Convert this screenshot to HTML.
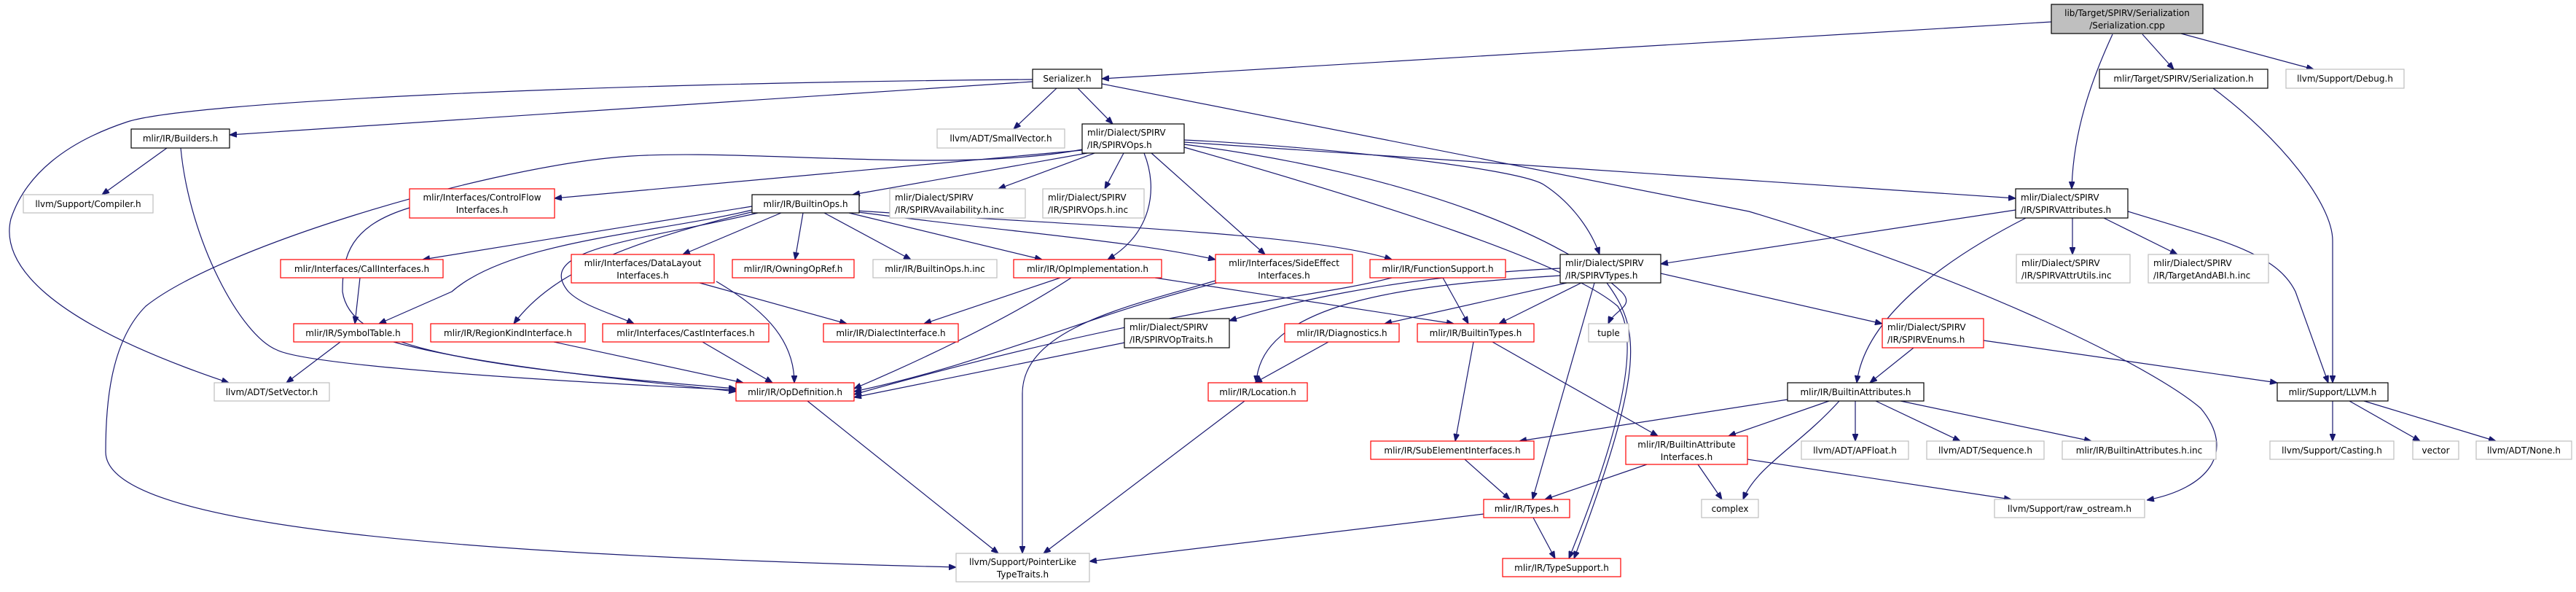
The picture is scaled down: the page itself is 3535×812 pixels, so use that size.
<!DOCTYPE html>
<html><head><meta charset="utf-8"><style>
html,body{margin:0;padding:0;background:#fff;}
svg{display:block;}
text{font-family:"DejaVu Sans","Liberation Sans",sans-serif;font-size:12px;fill:#000;}
.e{fill:none;stroke:#191970;stroke-width:1.2;marker-end:url(#a);}
.b{fill:#fff;stroke:#000;stroke-width:1.2;}
.r{fill:#fff;stroke:#ff0000;stroke-width:1.2;}
.g{fill:#fff;stroke:#bfbfbf;stroke-width:1.2;}
</style></head><body>
<svg width="3535" height="812" viewBox="0 0 3535 812" xmlns="http://www.w3.org/2000/svg">
<defs><marker id="a" viewBox="0 0 10 8" refX="10" refY="4" markerWidth="10" markerHeight="8" markerUnits="userSpaceOnUse" orient="auto"><path d="M0,0 L10,4 L0,8 z" fill="#191970" stroke="#191970"/></marker></defs>
<!-- edges -->
<path class="e" d="M2815,30 L1512,108"/>
<path class="e" d="M2940,47 L2983,95"/>
<path class="e" d="M2993,46 L3175,95"/>
<path class="e" d="M2899,47 C2870,110 2845,180 2843,259"/>
<path class="e" d="M3037,121 C3130,190 3201,280 3201,330 L3201,525"/>
<path class="e" d="M2920,290 C3050,330 3124,347 3150,400 L3195,525"/>
<path class="e" d="M1417,112 L315,185"/>
<path class="e" d="M1417,109 C800,114 260,140 175,167 C90,195 35,240 15,300 C0,360 60,440 314,525"/>
<path class="e" d="M1450,121 L1391,177"/>
<path class="e" d="M1479,121 L1527,170"/>
<path class="e" d="M1512,115 L2400,290 C2700,380 2950,500 3020,560 C3070,620 3030,670 2946,686"/>
<path class="e" d="M229,203 L140,267"/>
<path class="e" d="M248,203 C260,330 330,460 380,480 C420,500 700,520 1010,535"/>
<path class="e" d="M1485,206 L761,272"/>
<path class="e" d="M1492,210 L1170,267"/>
<path class="e" d="M1502,210 L1370,259"/>
<path class="e" d="M1542,210 L1516,259"/>
<path class="e" d="M1570,210 C1590,260 1580,320 1520,356"/>
<path class="e" d="M1580,210 L1736,349"/>
<path class="e" d="M1625,192 C1800,200 2080,230 2118,253 C2160,280 2185,320 2195,349"/>
<path class="e" d="M1625,195 L2766,272"/>
<path class="e" d="M1625,202 C1900,280 2150,360 2220,420 C2260,480 2200,650 2153,766"/>
<path class="e" d="M1485,205 C1300,240 1000,200 842,216 C650,235 300,340 200,420 C150,470 145,560 145,620 C145,720 600,760 1312,778"/>
<path class="e" d="M1625,198 C1950,240 2150,330 2225,400 C2245,420 2215,425 2207,444"/>
<path class="e" d="M1032,283 L580,356"/>
<path class="e" d="M1072,292 L937,349"/>
<path class="e" d="M1102,292 L1091,356"/>
<path class="e" d="M1131,292 L1250,356"/>
<path class="e" d="M1165,292 L1430,356"/>
<path class="e" d="M1170,290 C1400,320 1550,330 1668,356"/>
<path class="e" d="M1175,289 C1500,310 1800,320 1910,356"/>
<path class="e" d="M1032,288 C900,320 700,330 620,400 L520,444"/>
<path class="e" d="M1035,290 C870,330 760,370 705,444"/>
<path class="e" d="M1040,292 C880,330 730,340 780,400 C800,420 840,430 870,444"/>
<path class="e" d="M983,386 C1040,420 1090,460 1090,525"/>
<path class="e" d="M960,388 L1162,444"/>
<path class="e" d="M562,285 C480,310 470,350 470,400 C480,470 600,500 1010,533"/>
<path class="e" d="M494,381 L487,444"/>
<path class="e" d="M467,469 L393,525"/>
<path class="e" d="M540,469 C650,500 850,520 1010,537"/>
<path class="e" d="M760,469 L1020,525"/>
<path class="e" d="M964,469 L1060,525"/>
<path class="e" d="M1455,381 L1268,444"/>
<path class="e" d="M1470,381 C1380,440 1250,500 1172,533"/>
<path class="e" d="M1585,381 L1995,444"/>
<path class="e" d="M1670,388 C1500,430 1350,500 1172,537"/>
<path class="e" d="M1910,381 C1800,410 1600,420 1172,541"/>
<path class="e" d="M1980,381 L2015,444"/>
<path class="e" d="M1668,385 C1550,420 1403,450 1403,540 L1403,759"/>
<path class="e" d="M1108,550 L1370,759"/>
<path class="e" d="M1543,470 L1172,545"/>
<path class="e" d="M2141,368 C1900,380 1750,420 1687,440"/>
<path class="e" d="M2150,388 L1900,444"/>
<path class="e" d="M2170,388 L2057,444"/>
<path class="e" d="M2141,378 C1950,390 1730,410 1724,525"/>
<path class="e" d="M2188,388 L2103,685"/>
<path class="e" d="M2205,388 C2250,450 2260,500 2160,766"/>
<path class="e" d="M2279,375 L2583,444"/>
<path class="e" d="M2766,288 L2279,362"/>
<path class="e" d="M2780,299 C2680,350 2560,430 2548,525"/>
<path class="e" d="M2844,299 L2844,349"/>
<path class="e" d="M2887,299 L2988,349"/>
<path class="e" d="M2626,477 L2566,525"/>
<path class="e" d="M2722,467 L3125,525"/>
<path class="e" d="M1823,469 L1722,525"/>
<path class="e" d="M2022,469 L1997,605"/>
<path class="e" d="M2048,469 L2275,598"/>
<path class="e" d="M1708,550 L1432,759"/>
<path class="e" d="M2453,548 L2085,605"/>
<path class="e" d="M2510,550 L2372,598"/>
<path class="e" d="M2524,550 C2470,610 2410,640 2392,685"/>
<path class="e" d="M2546,550 L2546,605"/>
<path class="e" d="M2574,550 L2690,605"/>
<path class="e" d="M2608,550 L2870,605"/>
<path class="e" d="M2260,637 L2120,685"/>
<path class="e" d="M2330,637 L2363,685"/>
<path class="e" d="M2398,630 L2760,685"/>
<path class="e" d="M2010,630 L2072,685"/>
<path class="e" d="M2036,705 L1495,770"/>
<path class="e" d="M2104,710 L2134,766"/>
<path class="e" d="M3201,550 L3201,605"/>
<path class="e" d="M3224,550 L3321,605"/>
<path class="e" d="M3244,550 L3425,605"/>
<!-- nodes -->
<rect x="2815" y="6" width="208" height="40" fill="#bfbfbf" stroke="#000" stroke-width="1.2"/>
<text x="2919" y="22" text-anchor="middle">lib/Target/SPIRV/Serialization</text>
<text x="2919" y="39" text-anchor="middle">/Serialization.cpp</text>
<rect class="b" x="1417" y="95" width="95" height="26"/><text x="1464.5" y="112" text-anchor="middle">Serializer.h</text>
<rect class="b" x="2881" y="95" width="231" height="26"/><text x="2996.5" y="112" text-anchor="middle">mlir/Target/SPIRV/Serialization.h</text>
<rect class="g" x="3137" y="95" width="162" height="26"/><text x="3218" y="112" text-anchor="middle">llvm/Support/Debug.h</text>
<rect class="b" x="180" y="177" width="135" height="26"/><text x="247.5" y="194" text-anchor="middle">mlir/IR/Builders.h</text>
<rect class="g" x="1286" y="177" width="175" height="26"/><text x="1373.5" y="194" text-anchor="middle">llvm/ADT/SmallVector.h</text>
<rect class="b" x="1485" y="170" width="140" height="40"/><text x="1492" y="186">mlir/Dialect/SPIRV</text><text x="1492" y="203">/IR/SPIRVOps.h</text>
<rect class="g" x="32" y="267" width="178" height="25"/><text x="121" y="284" text-anchor="middle">llvm/Support/Compiler.h</text>
<rect class="r" x="562" y="259" width="199" height="40"/><text x="661.5" y="275" text-anchor="middle">mlir/Interfaces/ControlFlow</text><text x="661.5" y="292" text-anchor="middle">Interfaces.h</text>
<rect class="b" x="1032" y="267" width="147" height="25"/><text x="1105.5" y="284" text-anchor="middle">mlir/IR/BuiltinOps.h</text>
<rect class="g" x="1221" y="259" width="186" height="40"/><text x="1228" y="275">mlir/Dialect/SPIRV</text><text x="1228" y="292">/IR/SPIRVAvailability.h.inc</text>
<rect class="g" x="1431" y="259" width="139" height="40"/><text x="1438" y="275">mlir/Dialect/SPIRV</text><text x="1438" y="292">/IR/SPIRVOps.h.inc</text>
<rect class="b" x="2141" y="349" width="138" height="39"/><text x="2148" y="365">mlir/Dialect/SPIRV</text><text x="2148" y="382">/IR/SPIRVTypes.h</text>
<rect class="b" x="2766" y="259" width="154" height="40"/><text x="2773" y="275">mlir/Dialect/SPIRV</text><text x="2773" y="292">/IR/SPIRVAttributes.h</text>
<rect class="r" x="385" y="356" width="223" height="25"/><text x="496.5" y="373" text-anchor="middle">mlir/Interfaces/CallInterfaces.h</text>
<rect class="r" x="784" y="349" width="196" height="39"/><text x="882" y="365" text-anchor="middle">mlir/Interfaces/DataLayout</text><text x="882" y="382" text-anchor="middle">Interfaces.h</text>
<rect class="r" x="1005" y="356" width="167" height="25"/><text x="1088.5" y="373" text-anchor="middle">mlir/IR/OwningOpRef.h</text>
<rect class="g" x="1198" y="356" width="170" height="25"/><text x="1283" y="373" text-anchor="middle">mlir/IR/BuiltinOps.h.inc</text>
<rect class="r" x="1391" y="356" width="203" height="25"/><text x="1492.5" y="373" text-anchor="middle">mlir/IR/OpImplementation.h</text>
<rect class="r" x="1668" y="349" width="188" height="39"/><text x="1762" y="365" text-anchor="middle">mlir/Interfaces/SideEffect</text><text x="1762" y="382" text-anchor="middle">Interfaces.h</text>
<rect class="r" x="1880" y="356" width="186" height="25"/><text x="1973" y="373" text-anchor="middle">mlir/IR/FunctionSupport.h</text>
<rect class="g" x="2767" y="349" width="156" height="39"/><text x="2774" y="365">mlir/Dialect/SPIRV</text><text x="2774" y="382">/IR/SPIRVAttrUtils.inc</text>
<rect class="g" x="2948" y="349" width="165" height="39"/><text x="2955" y="365">mlir/Dialect/SPIRV</text><text x="2955" y="382">/IR/TargetAndABI.h.inc</text>
<rect class="r" x="403" y="444" width="163" height="25"/><text x="484.5" y="461" text-anchor="middle">mlir/IR/SymbolTable.h</text>
<rect class="r" x="591" y="444" width="212" height="25"/><text x="697" y="461" text-anchor="middle">mlir/IR/RegionKindInterface.h</text>
<rect class="r" x="827" y="444" width="228" height="25"/><text x="941" y="461" text-anchor="middle">mlir/Interfaces/CastInterfaces.h</text>
<rect class="r" x="1130" y="444" width="185" height="25"/><text x="1222.5" y="461" text-anchor="middle">mlir/IR/DialectInterface.h</text>
<rect class="b" x="1543" y="437" width="144" height="40"/><text x="1550" y="453">mlir/Dialect/SPIRV</text><text x="1550" y="470">/IR/SPIRVOpTraits.h</text>
<rect class="r" x="1763" y="444" width="157" height="25"/><text x="1841.5" y="461" text-anchor="middle">mlir/IR/Diagnostics.h</text>
<rect class="r" x="1945" y="444" width="160" height="25"/><text x="2025" y="461" text-anchor="middle">mlir/IR/BuiltinTypes.h</text>
<rect class="g" x="2180" y="444" width="55" height="25"/><text x="2207.5" y="461" text-anchor="middle">tuple</text>
<rect class="r" x="2583" y="437" width="139" height="40"/><text x="2590" y="453">mlir/Dialect/SPIRV</text><text x="2590" y="470">/IR/SPIRVEnums.h</text>
<rect class="g" x="294" y="525" width="158" height="25"/><text x="373" y="542" text-anchor="middle">llvm/ADT/SetVector.h</text>
<rect class="r" x="1010" y="525" width="162" height="25"/><text x="1091" y="542" text-anchor="middle">mlir/IR/OpDefinition.h</text>
<rect class="r" x="1658" y="525" width="136" height="25"/><text x="1726" y="542" text-anchor="middle">mlir/IR/Location.h</text>
<rect class="b" x="2453" y="525" width="187" height="25"/><text x="2546.5" y="542" text-anchor="middle">mlir/IR/BuiltinAttributes.h</text>
<rect class="b" x="3125" y="525" width="152" height="25"/><text x="3201" y="542" text-anchor="middle">mlir/Support/LLVM.h</text>
<rect class="r" x="1881" y="605" width="224" height="25"/><text x="1993" y="622" text-anchor="middle">mlir/IR/SubElementInterfaces.h</text>
<rect class="r" x="2231" y="598" width="167" height="39"/><text x="2314.5" y="614" text-anchor="middle">mlir/IR/BuiltinAttribute</text><text x="2314.5" y="631" text-anchor="middle">Interfaces.h</text>
<rect class="g" x="2472" y="605" width="147" height="25"/><text x="2545.5" y="622" text-anchor="middle">llvm/ADT/APFloat.h</text>
<rect class="g" x="2644" y="605" width="161" height="25"/><text x="2724.5" y="622" text-anchor="middle">llvm/ADT/Sequence.h</text>
<rect class="g" x="2830" y="605" width="211" height="25"/><text x="2935.5" y="622" text-anchor="middle">mlir/IR/BuiltinAttributes.h.inc</text>
<rect class="g" x="3115" y="605" width="170" height="25"/><text x="3200" y="622" text-anchor="middle">llvm/Support/Casting.h</text>
<rect class="g" x="3311" y="605" width="63" height="25"/><text x="3342.5" y="622" text-anchor="middle">vector</text>
<rect class="g" x="3398" y="605" width="131" height="25"/><text x="3463.5" y="622" text-anchor="middle">llvm/ADT/None.h</text>
<rect class="r" x="2036" y="685" width="118" height="25"/><text x="2095" y="702" text-anchor="middle">mlir/IR/Types.h</text>
<rect class="g" x="2335" y="685" width="78" height="25"/><text x="2374" y="702" text-anchor="middle">complex</text>
<rect class="g" x="2737" y="685" width="206" height="25"/><text x="2840" y="702" text-anchor="middle">llvm/Support/raw_ostream.h</text>
<rect class="g" x="1312" y="759" width="183" height="39"/><text x="1403.5" y="775" text-anchor="middle">llvm/Support/PointerLike</text><text x="1403.5" y="792" text-anchor="middle">TypeTraits.h</text>
<rect class="r" x="2062" y="766" width="162" height="25"/><text x="2143" y="783" text-anchor="middle">mlir/IR/TypeSupport.h</text>
</svg>
</body></html>
